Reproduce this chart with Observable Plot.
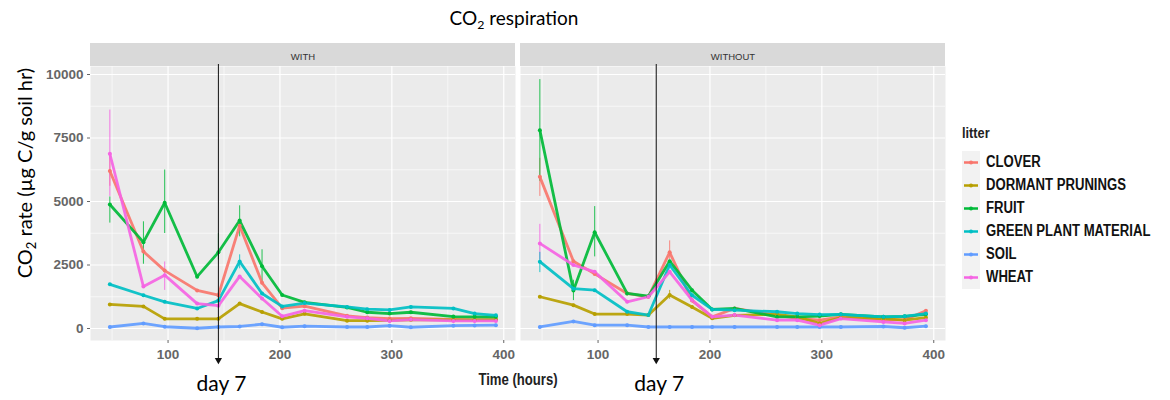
<!DOCTYPE html>
<html><head><meta charset="utf-8">
<script src="https://cdn.jsdelivr.net/npm/d3@7"></script>
<script src="https://cdn.jsdelivr.net/npm/@observablehq/plot@0.6"></script>
<style>
body{margin:0;background:#fff;}
#wrap{position:relative;width:1170px;height:400px;overflow:hidden;background:#fff;}
#chart{position:absolute;left:0;top:0;}
.title{position:absolute;left:0;width:1028px;top:6px;text-align:center;font:19px Lato, "Open Sans", sans-serif;color:#000;line-height:24px;}
.ytitle{position:absolute;left:24px;top:173px;transform:translate(-50%,-50%) rotate(-90deg);white-space:nowrap;font:20px Lato, "Open Sans", sans-serif;color:#000;}
.xtitle{position:absolute;left:518px;top:380px;transform:translate(-50%,-50%) scaleX(0.82);white-space:nowrap;font:bold 16px "Liberation Sans", Arial, sans-serif;color:#222;}
.legtitle{position:absolute;left:962px;top:124px;font:bold 15px "Liberation Sans", Arial, sans-serif;color:#222;transform:scaleX(0.85);transform-origin:0 50%;}
.legrow{position:absolute;left:962px;height:23px;display:flex;align-items:center;}
.legkey{width:18px;height:23px;background:#F2F2F2;flex:none;}
.leglab{margin-left:6px;font:bold 16px "Liberation Sans", Arial, sans-serif;color:#111;white-space:nowrap;transform:scaleX(0.82);transform-origin:0 50%;}
sub{font-size:65%;vertical-align:-0.3em;line-height:0;}
</style></head>
<body>
<div id="wrap">
  <div id="chart"></div>
  <div class="title">CO<sub>2</sub> respiration</div>
  <div class="ytitle">CO<sub>2</sub> rate (µg C/g soil hr)</div>
  <div class="xtitle">Time (hours)</div>
  <div id="legend"></div>
</div>
<script>
// ---- data ----
const panels = ["WITH", "WITHOUT"];
const litters = ["CLOVER", "DORMANT PRUNINGS", "FRUIT", "GREEN PLANT MATERIAL", "SOIL", "WHEAT"];
const colors = ["#F8766D", "#B79F00", "#00BA38", "#00BFC4", "#619CFF", "#F564E3"];
const times = [48, 78, 97, 126, 145, 164, 184, 202, 222, 260, 278, 298, 317, 355, 374, 393];

const withClover  = [6200, 3030, 2280, 1500, 1310, 4050, 1800, 800, 880, 500, 430, 390, 400, 360, 340, 340];
const withDormant = [950, 870, 380, 380, 380, 980, 650, 380, 580, 310, 310, 320, 340, 340, 340, 350];
const withFruit   = [4880, 3400, 4950, 2040, 3000, 4250, 2450, 1320, 1030, 830, 640, 590, 640, 470, 460, 460];
const withGreen   = [1740, 1310, 1050, 790, 1100, 2640, 1380, 870, 1000, 850, 760, 730, 850, 790, 590, 520];
const withSoil    = [60, 200, 70, 10, 60, 80, 170, 50, 90, 60, 60, 110, 50, 110, 120, 130];
const withWheat   = [6880, 1650, 2100, 980, 900, 2050, 1180, 480, 700, 460, 400, 300, 350, 300, 300, 300];

const withoutClover  = [5970, 2650, 2150, 1380, 1250, 3000, 1100, 460, 790, 520, 400, 330, 460, 350, 340, 700];
const withoutDormant = [1250, 920, 570, 570, 530, 1320, 850, 400, 520, 560, 460, 200, 430, 390, 330, 430];
const withoutFruit   = [7810, 1500, 3790, 1380, 1270, 2650, 1510, 750, 790, 460, 460, 490, 560, 460, 480, 560];
const withoutGreen   = [2630, 1570, 1510, 660, 530, 2500, 1310, 750, 720, 660, 590, 550, 560, 460, 480, 590];
const withoutSoil    = [60, 280, 130, 130, 60, 60, 60, 60, 60, 60, 60, 60, 60, 80, 30, 90];
const withoutWheat   = [3350, 2500, 2230, 1050, 1250, 2230, 1120, 460, 530, 330, 330, 130, 390, 260, 200, 330];

// error bars: panel, litter, time, low, high
const errorBars = [
  ["WITH", "CLOVER", 48, 5600, 6800],
  ["WITH", "FRUIT", 48, 4150, 5180],
  ["WITH", "WHEAT", 48, 5200, 8600],
  ["WITH", "FRUIT", 78, 2530, 4200],
  ["WITH", "FRUIT", 97, 3740, 6240],
  ["WITH", "WHEAT", 97, 1500, 2620],
  ["WITH", "FRUIT", 145, 2700, 3740],
  ["WITH", "FRUIT", 164, 3610, 4830],
  ["WITH", "GREEN PLANT MATERIAL", 164, 2350, 2900],
  ["WITH", "FRUIT", 184, 1800, 3100],
  ["WITHOUT", "CLOVER", 48, 5200, 6700],
  ["WITHOUT", "FRUIT", 48, 5800, 9800],
  ["WITHOUT", "WHEAT", 48, 2700, 4100],
  ["WITHOUT", "GREEN PLANT MATERIAL", 48, 2200, 3000],
  ["WITHOUT", "FRUIT", 78, 1100, 1900],
  ["WITHOUT", "FRUIT", 97, 2820, 4800],
  ["WITHOUT", "CLOVER", 164, 2700, 3450],
  ["WITHOUT", "DORMANT PRUNINGS", 164, 1150, 1500]
];

const markerTimes = [145, 152];
const markerLabel = "day 7";
const xTicks = [100, 200, 300, 400];
const yTicks = [0, 2500, 5000, 7500, 10000];

// ---- build table ----
const series = {
  WITH: [withClover, withDormant, withFruit, withGreen, withSoil, withWheat],
  WITHOUT: [withoutClover, withoutDormant, withoutFruit, withoutGreen, withoutSoil, withoutWheat]
};
const rows = [];
for (const p of panels) {
  series[p].forEach((vals, i) => {
    vals.forEach((v, j) => rows.push({panel: p, litter: litters[i], time: times[j], value: v}));
  });
}
const errs = errorBars.map(([panel, litter, time, lo, hi]) => ({panel, litter, time, lo, hi}));
const markers = panels.map((p, i) => ({panel: p, time: markerTimes[i], label: markerLabel}));
const strips = panels.map(p => ({panel: p}));

// ---- layout ----
const W = 1170, H = 400;
const mTop = 66, mBottom = 60, mLeft = 90, mRight = 225;
const xDomain = [30.7, 410.5];
const yDomain = [-472, 10315];
const yAt = px => yDomain[0] + (H - mBottom - px) / (H - mBottom - mTop) * (yDomain[1] - yDomain[0]);

const tickFont = '"Liberation Sans", Arial, sans-serif';

const chart = Plot.plot({
  width: W, height: H,
  marginTop: mTop, marginBottom: mBottom, marginLeft: mLeft, marginRight: mRight,
  style: {background: "transparent", overflow: "visible"},
  x: {domain: xDomain, label: null},
  y: {domain: yDomain, label: null},
  fx: {domain: panels, paddingInner: 5 / 430, paddingOuter: 0, axis: null, label: null},
  color: {domain: litters, range: colors},
  marks: [
    Plot.frame({fill: "#EBEBEB", stroke: "none"}),
    Plot.ruleY([1250, 3750, 6250, 8750], {stroke: "#fff", strokeWidth: 0.6}),
    Plot.ruleX([50, 150, 250, 350], {stroke: "#fff", strokeWidth: 0.6}),
    Plot.ruleY(yTicks, {stroke: "#fff", strokeWidth: 1.2}),
    Plot.ruleX(xTicks, {stroke: "#fff", strokeWidth: 1.2}),
    Plot.rect(strips, {fx: "panel", x1: () => xDomain[0], x2: () => xDomain[1], y1: () => yAt(66), y2: () => yAt(43), fill: "#D9D9D9"}),
    Plot.text(strips, {fx: "panel", y: () => yAt(56), text: "panel", fontSize: 9.5, fill: "#333", fontFamily: tickFont}),
    Plot.ruleX(errs, {fx: "panel", x: "time", y1: "lo", y2: "hi", stroke: "litter", strokeWidth: 1, strokeOpacity: 0.85}),
    Plot.line(rows, {fx: "panel", x: "time", y: "value", z: "litter", stroke: "litter", strokeWidth: 2.8, strokeOpacity: 0.92}),
    Plot.dot(rows, {fx: "panel", x: "time", y: "value", fill: "litter", r: 2}),
    Plot.ruleX(markers, {fx: "panel", x: "time", y1: () => yAt(64), y2: () => yAt(358), stroke: "#111", strokeWidth: 1}),
    Plot.dot(markers, {fx: "panel", x: "time", y: () => yAt(359.5), symbol: "triangle", rotate: 180, r: 2.7, fill: "#111", stroke: "none"}),
    Plot.text(markers, {fx: "panel", x: "time", y: () => yAt(384), text: "label", dx: 3, fontSize: 21, fontFamily: "Lato, 'Open Sans', sans-serif", fill: "#000"}),
    Plot.axisY({ticks: yTicks, tickFormat: d3.format("d"), tickSize: 3, tickPadding: 4, fontSize: 13.5, fontWeight: "bold", fontFamily: tickFont, color: "#666", label: null}),
    Plot.axisX({ticks: xTicks, tickFormat: d3.format("d"), tickSize: 3, tickPadding: 6, fontSize: 13.5, fontWeight: "bold", fontFamily: tickFont, color: "#666", label: null})
  ]
});
document.getElementById("chart").appendChild(chart);

// ---- legend ----
const legend = document.getElementById("legend");
const lt = document.createElement("div");
lt.className = "legtitle";
lt.textContent = "litter";
legend.appendChild(lt);
litters.forEach((name, i) => {
  const row = document.createElement("div");
  row.className = "legrow";
  row.style.top = (150.5 + i * 23) + "px";
  row.innerHTML = `<div class="legkey"><svg width="18" height="23"><line x1="2" x2="16" y1="11.5" y2="11.5" stroke="${colors[i]}" stroke-width="2.5"/><circle cx="9" cy="11.5" r="2" fill="${colors[i]}"/></svg></div><div class="leglab">${name}</div>`;
  legend.appendChild(row);
});
</script>
</body></html>
